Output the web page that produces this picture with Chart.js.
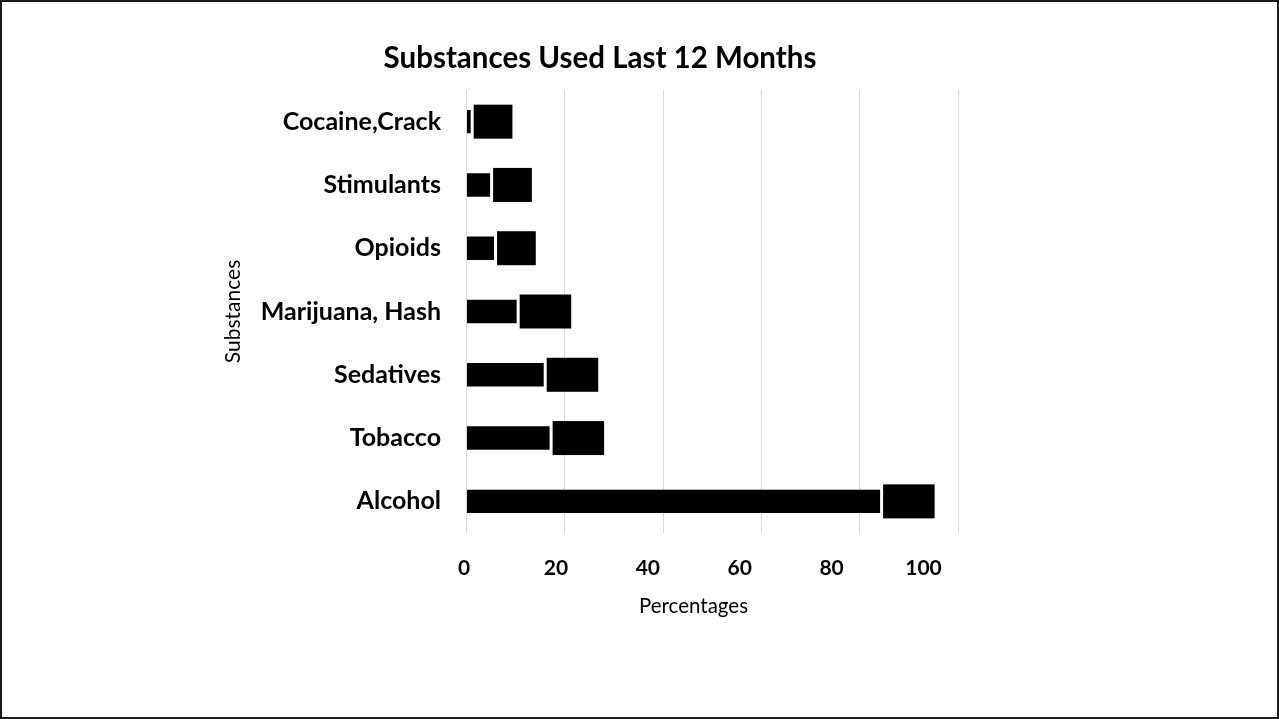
<!DOCTYPE html>
<html>
<head>
<meta charset="utf-8">
<title>Substances Used Last 12 Months</title>
<script src="https://cdn.jsdelivr.net/npm/chart.js@4.4.1/dist/chart.umd.min.js"></script>
<style>
  html, body { margin: 0; padding: 0; background: #fff; }
  #wrap { width: 1279px; height: 719px; }
</style>
</head>
<body>
<div id="wrap"><canvas id="myChart" width="1279" height="719"></canvas></div>

<script>

var substances = ['Cocaine,Crack', 'Stimulants', 'Opioids', 'Marijuana, Hash', 'Sedatives', 'Tobacco', 'Alcohol'];
var percentages = [0.85, 4.8, 5.6, 10.2, 15.7, 16.9, 84.1];
var xTickValues = [0, 20, 40, 60, 80, 100];

var fontName = 'Lato, "Open Sans", sans-serif';

// white page + thin frame round it
var framePlugin = {
    id: 'frame',
    beforeDraw: function (chart) {
        var ctx = chart.ctx;
        ctx.save();
        ctx.fillStyle = '#fff';
        ctx.fillRect(0, 0, chart.width, chart.height);
        ctx.restore();
    },
    afterDraw: function (chart) {
        var ctx = chart.ctx;
        ctx.save();
        ctx.strokeStyle = '#1a1a1a';
        ctx.lineWidth = 2;
        ctx.strokeRect(1, 1, chart.width - 2, chart.height - 2);
        ctx.restore();
    }
};

// chart title and axis title sit a bit left of where Chart.js centres them
var titlePlacePlugin = {
    id: 'titlePlace',
    afterLayout: function (chart) {
        if (chart.titleBlock) {
            chart.titleBlock.left = 0;
            chart.titleBlock.right = 1200;
        }
        var x2 = chart.scales.x2;
        if (x2) {
            x2.left = 2 * 693.5 - x2.right;
        }
    }
};

// data labels with a black fill (text black too, so it does not show)
var labelBoxPlugin = {
    id: 'labelBoxes',
    afterDatasetsDraw: function (chart) {
        var ctx = chart.ctx;
        var meta = chart.getDatasetMeta(0);
        ctx.save();
        ctx.font = 'bold 22px ' + fontName;
        for (var i = 0; i < meta.data.length; i++) {
            var bar = meta.data[i];
            var text = percentages[i].toFixed(1);
            var w = ctx.measureText(text).width + 8;
            var h = 34;
            var left = bar.x + 3;
            var top = bar.y - h / 2;
            ctx.fillStyle = '#000';
            ctx.fillRect(left, top, w, h);
            ctx.textAlign = 'center';
            ctx.textBaseline = 'middle';
            ctx.fillText(text, left + w / 2, bar.y);
        }
        ctx.restore();
    }
};

function createChart() {
    var ctx = document.getElementById('myChart').getContext('2d');
    var myBarChart = new Chart(ctx, {
        type: 'bar',
        data: {
            labels: substances,
            datasets: [{
                data: percentages,
                backgroundColor: '#000',
                borderWidth: 0,
                barPercentage: 0.37,
                categoryPercentage: 1
            }]
        },
        plugins: [framePlugin, titlePlacePlugin, labelBoxPlugin],
        options: {
            indexAxis: 'y',
            responsive: false,
            animation: false,
            devicePixelRatio: 1,
            layout: { padding: { left: 0, right: 320.7, top: 0, bottom: 0 } },
            plugins: {
                legend: { display: false },
                tooltip: { enabled: false },
                title: {
                    display: true,
                    text: 'Substances Used Last 12 Months',
                    color: '#000',
                    font: { family: fontName, size: 29.5, weight: 'bold', lineHeight: 1.2 },
                    padding: { top: 41, bottom: 13.6 }
                }
            },
            scales: {
                y: {
                    type: 'category',
                    position: 'left',
                    grid: { display: false, drawTicks: false },
                    border: { display: false },
                    ticks: {
                        color: '#000',
                        padding: 25.5,
                        font: { family: fontName, size: 25, weight: 'bold' }
                    },
                    title: {
                        display: true,
                        text: 'Substances',
                        color: '#000',
                        font: { family: fontName, size: 21 },
                        padding: { top: 220.4, bottom: 0 }
                    },
                    afterFit: function (scale) { scale.width = 466.5; }
                },
                x: {
                    type: 'linear',
                    position: 'bottom',
                    min: 0,
                    max: 100,
                    ticks: { display: false, stepSize: 20 },
                    grid: { color: '#d9d9d9', lineWidth: 1, drawTicks: false },
                    border: { display: false },
                    afterFit: function (scale) { scale.height = 0; }
                },
                // tick labels of the sheet do not line up with its grid, so they get their own axis
                x2: {
                    type: 'linear',
                    axis: 'x',
                    position: 'bottom',
                    min: 0.544,
                    max: 107.57,
                    grid: { display: false, drawTicks: false },
                    border: { display: false },
                    ticks: {
                        color: '#000',
                        padding: 22.5,
                        font: { family: fontName, size: 21, weight: 'bold' }
                    },
                    afterBuildTicks: function (scale) {
                        scale.ticks = xTickValues.map(function (v) { return { value: v }; });
                    },
                    title: {
                        display: true,
                        text: 'Percentages',
                        color: '#000',
                        font: { family: fontName, size: 20.5 },
                        padding: { top: 0, bottom: 100.5 }
                    },
                    afterFit: function (scale) { scale.height = 186; }
                }
            }
        }
    });
}

createChart();

</script>
</body>
</html>
